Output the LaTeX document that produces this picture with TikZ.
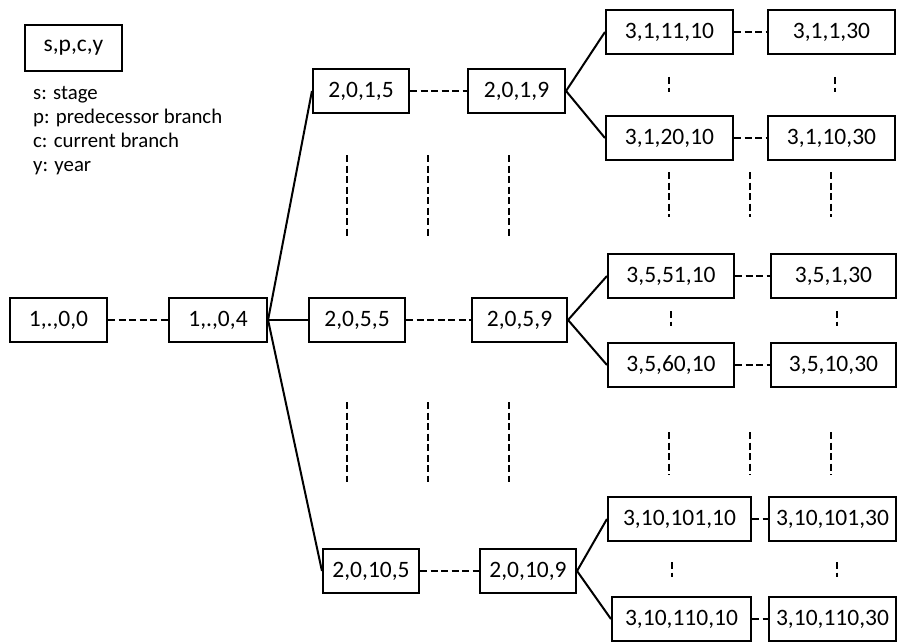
\documentclass[tikz,border=0pt]{standalone}
\usepackage{fontspec}
\setmainfont{Carlito}
\tikzset{
  state/.style={draw, line width=2.1pt, minimum height=44pt, inner sep=0pt,
    font=\fontsize{23.5}{26}\selectfont},
  gap/.style={line width=2.2pt, dash pattern=on 7pt off 3.5pt},
  branch/.style={line width=2pt}
}
\begin{document}
\begin{tikzpicture}[x=1pt,y=-1pt]
  \useasboundingbox (0,0) rectangle (897,642);
  % key
  \node[state, minimum width=97pt, minimum height=46pt] (key) at (73.5,48) {s,p,c,y};
  \node[anchor=west, align=left, inner sep=0pt, font=\fontsize{20.8}{24}\selectfont]
    (legend) at (33,131) {s: stage\\p: predecessor branch\\c: current branch\\y: year};
  % stage 1
  \node[state, minimum width=97pt] (n100) at (58.5,320) {1,.,0,0};
  \node[state, minimum width=98pt] (n104) at (218,320) {1,.,0,4};
  % stage 2
  \node[state, minimum width=96pt] (n2015) at (361,91) {2,0,1,5};
  \node[state, minimum width=97pt] (n2019) at (516.5,91) {2,0,1,9};
  \node[state, minimum width=96pt] (n2055) at (357,320) {2,0,5,5};
  \node[state, minimum width=95pt] (n2059) at (519.5,320) {2,0,5,9};
  \node[state, minimum width=96pt] (n20105) at (371,571) {2,0,10,5};
  \node[state, minimum width=96pt] (n20109) at (528,571) {2,0,10,9};
  % stage 3
  \node[state, minimum width=127pt] (n311) at (669.5,32) {3,1,11,10};
  \node[state, minimum width=127pt] (n311e) at (831.5,32) {3,1,1,30};
  \node[state, minimum width=127pt] (n320) at (669.5,138) {3,1,20,10};
  \node[state, minimum width=127pt] (n320e) at (831.5,138) {3,1,10,30};
  \node[state, minimum width=126pt] (n551) at (671,276) {3,5,51,10};
  \node[state, minimum width=125pt] (n551e) at (833.5,276) {3,5,1,30};
  \node[state, minimum width=126pt] (n560) at (671,365) {3,5,60,10};
  \node[state, minimum width=125pt] (n560e) at (833.5,365) {3,5,10,30};
  \node[state, minimum width=143pt] (n101) at (679.5,519) {3,10,101,10};
  \node[state, minimum width=127pt] (n101e) at (832.5,519) {3,10,101,30};
  \node[state, minimum width=139pt] (n110) at (681.5,619) {3,10,110,10};
  \node[state, minimum width=127pt] (n110e) at (832.5,619) {3,10,110,30};
  % dashed links
  \draw[gap] (n100) -- (n104);
  \draw[gap] (n2015) -- (n2019);
  \draw[gap] (n2055) -- (n2059);
  \draw[gap] (n20105) -- (n20109);
  \foreach \a in {n311,n320,n551,n560,n101,n110}
    \draw[gap] (\a) -- (\a e);
  % branches
  \foreach \b in {n2015,n2055,n20105}
    \draw[branch] (n104.east) -- (\b.west);
  \draw[branch] (n2019.east) -- (n311.west);
  \draw[branch] (n2019.east) -- (n320.west);
  \draw[branch] (n2059.east) -- (n551.west);
  \draw[branch] (n2059.east) -- (n560.west);
  \draw[branch] (n20109.east) -- (n101.west);
  \draw[branch] (n20109.east) -- (n110.west);
  % omitted branches
  \foreach \x in {347,428,509} {
    \draw[gap] (\x,155) -- (\x,236);
    \draw[gap] (\x,402) -- (\x,482);
  }
  \foreach \x in {669,750,831} {
    \draw[gap] (\x,172) -- (\x,217);
    \draw[gap] (\x,432) -- (\x,475);
  }
  \draw[gap] (669,77) -- (669,92);
  \draw[gap] (835,77) -- (835,92);
  \draw[gap] (671,311) -- (671,326);
  \draw[gap] (837,311) -- (837,326);
  \draw[gap] (672,562) -- (672,577);
  \draw[gap] (837,562) -- (837,577);
\end{tikzpicture}
\end{document}
